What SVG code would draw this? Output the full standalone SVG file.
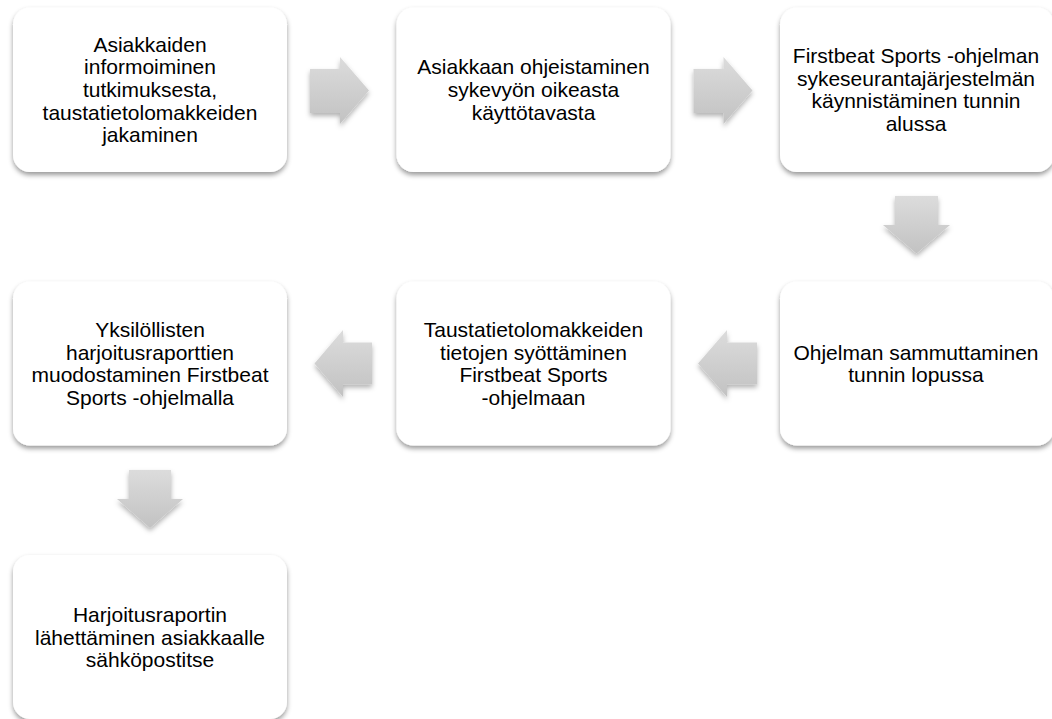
<svg xmlns="http://www.w3.org/2000/svg" width="1052" height="719" viewBox="0 0 1052 719">
  <defs>
    <filter id="boxShadow" x="-10%" y="-10%" width="120%" height="125%">
      <feDropShadow dx="0" dy="3" stdDeviation="2.5" flood-color="#000" flood-opacity="0.4"/>
    </filter>
    <filter id="arrowShadow" x="-20%" y="-20%" width="140%" height="150%">
      <feDropShadow dx="0" dy="3" stdDeviation="2.5" flood-color="#000" flood-opacity="0.3"/>
    </filter>
    <linearGradient id="arrowGrad" x1="0" y1="0" x2="0" y2="1">
      <stop offset="0" stop-color="#dcdcdc"/>
      <stop offset="1" stop-color="#c2c2c2"/>
    </linearGradient>
    <style>
      .box { fill: #ffffff; filter: url(#boxShadow); }
      .arrow { fill: url(#arrowGrad); filter: url(#arrowShadow); }
      .label { font-family: "Liberation Sans", Arial, sans-serif; font-size: 21px; fill: #000000; text-anchor: middle; }
    </style>
  </defs>
  <rect width="1052" height="719" fill="#ffffff"/>

  <g id="connectors">
    <path class="arrow" d="M310,69 H340 V57 L369,90.5 L340,124 V113 H310 Z"/>
    <path class="arrow" d="M693.5,69 H723.5 V57 L752.5,90.5 L723.5,124 V113 H693.5 Z"/>
    <path class="arrow" d="M895,196 H938 V225 H950 L916.5,253.5 L883,225 H895 Z"/>
    <path class="arrow" d="M757,342.5 H727 V330 L698,363.5 L727,397 V384.5 H757 Z"/>
    <path class="arrow" d="M372,342.5 H343 V330 L314.5,363.5 L343,397 V384.5 H372 Z"/>
    <path class="arrow" d="M129,470 H171 V499 H183 L150,528 L117,499 H129 Z"/>
  </g>

  <g id="node1">
    <rect class="box" x="13" y="7.5" width="274" height="164.5" rx="17"/>
    <text class="label" x="150"><tspan x="150" y="51.6">Asiakkaiden</tspan><tspan x="150" y="74.3">informoiminen</tspan><tspan x="150" y="97">tutkimuksesta,</tspan><tspan x="150" y="119.7">taustatietolomakkeiden</tspan><tspan x="150" y="142.4">jakaminen</tspan></text>
  </g>
  <g id="node2">
    <rect class="box" x="396.5" y="7.5" width="274" height="164.5" rx="17"/>
    <text class="label"><tspan x="533.5" y="74.3">Asiakkaan ohjeistaminen</tspan><tspan x="533.5" y="97">sykevyön oikeasta</tspan><tspan x="533.5" y="119.7">käyttötavasta</tspan></text>
  </g>
  <g id="node3">
    <rect class="box" x="780" y="7.5" width="274" height="164.5" rx="17"/>
    <text class="label"><tspan x="916" y="63">Firstbeat Sports -ohjelman</tspan><tspan x="916" y="85.7">sykeseurantajärjestelmän</tspan><tspan x="916" y="108.4">käynnistäminen tunnin</tspan><tspan x="916" y="131.1">alussa</tspan></text>
  </g>
  <g id="node4">
    <rect class="box" x="780" y="281.5" width="274" height="164" rx="17"/>
    <text class="label"><tspan x="916" y="359.6">Ohjelman sammuttaminen</tspan><tspan x="916" y="382.3">tunnin lopussa</tspan></text>
  </g>
  <g id="node5">
    <rect class="box" x="396.5" y="281.5" width="274" height="164" rx="17"/>
    <text class="label"><tspan x="533.5" y="337">Taustatietolomakkeiden</tspan><tspan x="533.5" y="359.7">tietojen syöttäminen</tspan><tspan x="533.5" y="382.4">Firstbeat Sports</tspan><tspan x="533.5" y="405.1">-ohjelmaan</tspan></text>
  </g>
  <g id="node6">
    <rect class="box" x="13" y="281.5" width="274" height="164" rx="17"/>
    <text class="label"><tspan x="150" y="337">Yksilöllisten</tspan><tspan x="150" y="359.7">harjoitusraporttien</tspan><tspan x="150" y="382.4">muodostaminen Firstbeat</tspan><tspan x="150" y="405.1">Sports -ohjelmalla</tspan></text>
  </g>
  <g id="node7">
    <rect class="box" x="13" y="555" width="274" height="164" rx="17"/>
    <text class="label"><tspan x="150" y="621.8">Harjoitusraportin</tspan><tspan x="150" y="644.5">lähettäminen asiakkaalle</tspan><tspan x="150" y="667.2">sähköpostitse</tspan></text>
  </g>
</svg>
